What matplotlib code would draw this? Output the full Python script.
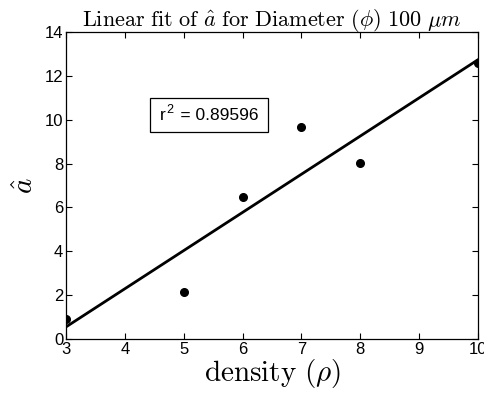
import numpy as np
import matplotlib
matplotlib.use('Agg')
import matplotlib.pyplot as plt

# data
density = [3, 5, 6, 7, 8, 10]
a_hat = [0.91, 2.15, 6.48, 9.68, 8.04, 12.6]
r2_value = '0.89596'

plt.rcParams['mathtext.fontset'] = 'cm'
plt.rcParams['font.family'] = ['Liberation Sans', 'DejaVu Sans']

fig = plt.figure(figsize=(4.85, 3.95), dpi=100)
ax = fig.add_axes([66 / 485, 1 - 339 / 395, (478 - 66) / 485, (339 - 32) / 395])

# least squares line through the points
slope, intercept = np.polyfit(density, a_hat, 1)
xfit = np.array([min(density), max(density)])
ax.plot(xfit, slope * xfit + intercept, color='black', lw=2)
ax.plot(density, a_hat, 'o', color='black', markersize=5.5)

ax.set_xlim(3, 10)
ax.set_ylim(0, 14)
ax.set_xticks(range(3, 11))
ax.set_yticks(range(0, 15, 2))
ax.tick_params(direction='in', top=True, right=True, labelsize=12,
               length=4, width=0.8, pad=2)
for sp in ax.spines.values():
    sp.set_linewidth(0.9)

ax.set_title(r'$\mathrm{Linear\ fit\ of\ }\hat{a}\mathrm{\ for\ Diameter\ }(\phi)\mathrm{\ 100\ }\mu m$',
             fontsize=16, pad=4)
ax.set_xlabel(r'$\mathrm{density\ }(\rho)$', fontsize=21, labelpad=0)
ax.set_ylabel(r'$\hat{a}$', fontsize=21, labelpad=4)

# r^2 box, superscript drawn separately so it stays in the sans font
ax.text(0.228, 0.714, 'r   = ' + r2_value, transform=ax.transAxes, fontsize=12.5,
        va='baseline', ha='left',
        bbox=dict(boxstyle='square,pad=0.55', fc='white', ec='black', lw=0.9))
ax.annotate('2', xy=(0.228, 0.714), xycoords='axes fraction',
            xytext=(4.4, 4.8), textcoords='offset points',
            fontsize=9, va='baseline', ha='left')

fig.savefig('out.png', dpi=100)
